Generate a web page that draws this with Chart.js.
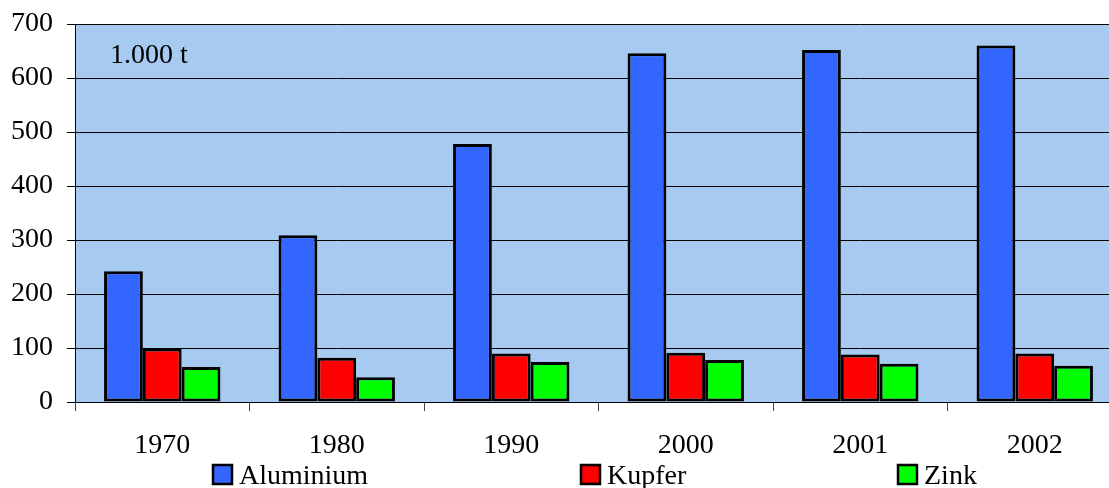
<!DOCTYPE html>
<html>
<head>
<meta charset="utf-8">
<script src="https://cdn.jsdelivr.net/npm/chart.js@4"></script>
<style>
  html, body { margin: 0; padding: 0; background: #fff; overflow: hidden; }
  #wrap { width: 1125px; height: 488px; position: relative; }
</style>
</head>
<body>
<div id="wrap"><canvas id="myChart"></canvas></div>
<script>
   const years = ['1970', '1980', '1990', '2000', '2001', '2002'];
   const aluminium = [242, 309, 478, 646, 652, 660];
   const kupfer = [99, 82, 90, 91, 88, 90];
   const zink = [65, 46, 74, 78, 71, 67];
   const yTicks = [0, 100, 200, 300, 400, 500, 600, 700];

   const serif = "'Times New Roman', 'Liberation Serif', serif";

   //    light blue plot background + unit label
   const plotBg = {
       id: 'plotBg',
       beforeDraw(chart) {
           const {ctx, chartArea: a} = chart;
           ctx.save();
           ctx.fillStyle = '#A6CAF0';
           ctx.fillRect(a.left, a.top, a.right - a.left, a.bottom - a.top);
           ctx.restore();
       },
       afterDraw(chart) {
           const {ctx, chartArea: a} = chart;
           ctx.save();
           ctx.font = '28px ' + serif;
           ctx.fillStyle = '#000';
           ctx.textBaseline = 'middle';
           ctx.fillText('1.000 t', a.left + 35, a.top + 32);
           ctx.restore();
       }
   };

   //    legend spread across the bottom like the original
   const spreadLegend = {
       id: 'spreadLegend',
       afterDraw(chart) {
           const {ctx} = chart;
           const xs = [213, 581, 898];
           ctx.save();
           ctx.font = '28px ' + serif;
           ctx.textBaseline = 'middle';
           chart.data.datasets.forEach((ds, i) => {
               const x = xs[i], y = 465;
               ctx.fillStyle = ds.backgroundColor;
               ctx.fillRect(x, y, 19, 19);
               ctx.strokeStyle = '#000';
               ctx.lineWidth = 2.5;
               ctx.strokeRect(x, y, 19, 19);
               ctx.fillStyle = '#000';
               ctx.fillText(ds.label, x + 26, y + 12);
           });
           ctx.restore();
       }
   };

   const chartData = {
       labels: years,
       datasets: [
           { label: 'Aluminium', data: aluminium, backgroundColor: '#3366FF' },
           { label: 'Kupfer', data: kupfer, backgroundColor: '#FF0000' },
           { label: 'Zink', data: zink, backgroundColor: '#00FF00' }
       ].map(d => Object.assign(d, {
           borderColor: '#000',
           borderWidth: 3,
           borderSkipped: false,
           categoryPercentage: 0.667,
           barPercentage: 1
       }))
   };

   const config = {
       type: 'bar',
       data: chartData,
       plugins: [plotBg, spreadLegend],
       options: {
           responsive: false,
           animation: false,
           layout: { padding: { top: 24, right: 3, bottom: 0, left: 0 } },
           plugins: {
               legend: { display: false },
               tooltip: { enabled: false }
           },
           scales: {
               x: {
                   afterFit: s => { s.height = 86; },
                   grid: {
                       offset: true,
                       drawOnChartArea: false,
                       tickLength: 9,
                       color: '#444'
                   },
                   border: { color: '#000', width: 1 },
                   ticks: {
                       color: '#000',
                       padding: 18,
                       font: { family: serif, size: 28 }
                   }
               },
               y: {
                   min: 0,
                   max: 700,
                   afterFit: s => {
                       s.width = 75;
                       s.paddingTop = 0;
                       s.paddingBottom = 0;
                   },
                   afterBuildTicks: s => { s.ticks = yTicks.map(v => ({ value: v })); },
                   grid: { color: '#000', lineWidth: 1, tickLength: 8 },
                   border: { color: '#000', width: 1 },
                   ticks: {
                       color: '#000',
                       padding: 14,
                       font: { family: serif, size: 28 }
                   }
               }
           }
       }
   };

   const cv = document.getElementById('myChart');
   cv.width = 1125;
   cv.height = 488;
   new Chart(cv, config);
</script>
</body>
</html>
